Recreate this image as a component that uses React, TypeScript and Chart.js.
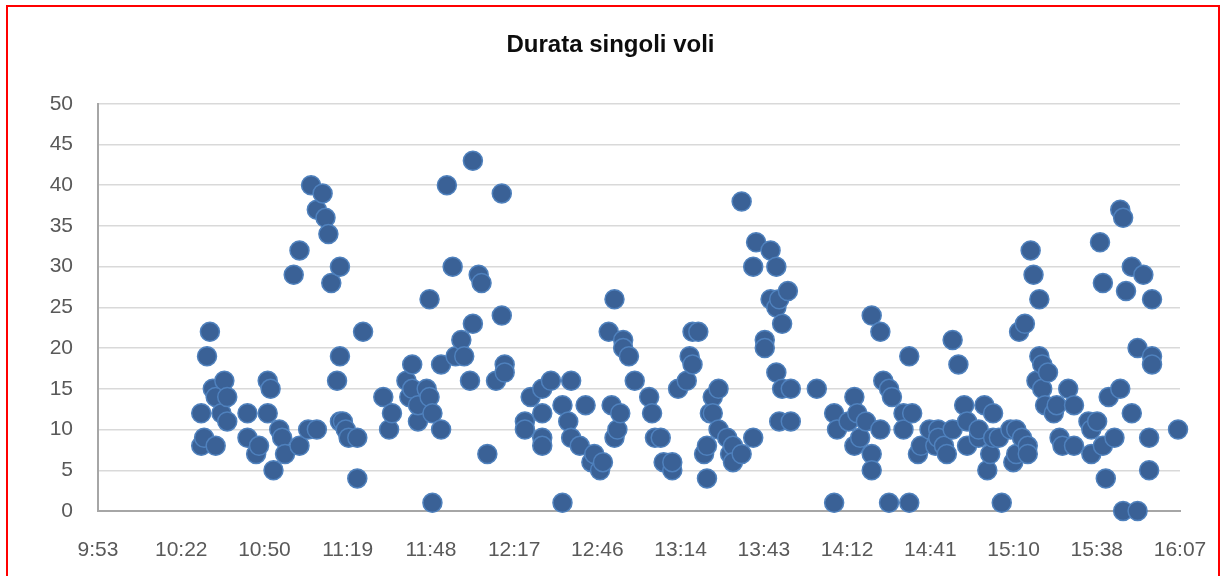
import { useEffect, useRef } from "react";
import { Chart, registerables } from "chart.js";

Chart.register(...registerables);

const chartTitle = "Durata singoli voli";

// Orario di decollo (hh:mm) di ciascun volo
const flightTimes = [
  "10:29", "10:29", "10:30", "10:31", "10:32", "10:33", "10:34", "10:34", "10:36", "10:37",
  "10:38", "10:38", "10:45", "10:45", "10:48", "10:49", "10:52", "10:52", "10:53", "10:54",
  "10:56", "10:57", "10:58", "11:01", "11:03", "11:03", "11:06", "11:07", "11:09", "11:09",
  "11:11", "11:12", "11:13", "11:14", "11:16", "11:17", "11:17", "11:17", "11:18", "11:19",
  "11:20", "11:23", "11:23", "11:25", "11:32", "11:34", "11:35", "11:40", "11:41", "11:42",
  "11:42", "11:44", "11:44", "11:47", "11:48", "11:48", "11:49", "11:49", "11:52", "11:52",
  "11:54", "11:56", "11:57", "11:59", "12:00", "12:02", "12:03", "12:03", "12:05", "12:06",
  "12:08", "12:11", "12:13", "12:13", "12:14", "12:14", "12:21", "12:21", "12:23", "12:27",
  "12:27", "12:27", "12:27", "12:30", "12:34", "12:34", "12:36", "12:37", "12:37", "12:40",
  "12:42", "12:44", "12:45", "12:47", "12:48", "12:50", "12:51", "12:52", "12:52", "12:53",
  "12:54", "12:55", "12:55", "12:57", "12:59", "13:04", "13:05", "13:06", "13:08", "13:09",
  "13:12", "13:12", "13:14", "13:17", "13:18", "13:19", "13:19", "13:21", "13:23", "13:24",
  "13:24", "13:25", "13:26", "13:26", "13:28", "13:28", "13:31", "13:32", "13:33", "13:33",
  "13:36", "13:36", "13:40", "13:40", "13:41", "13:44", "13:44", "13:46", "13:46", "13:48",
  "13:48", "13:48", "13:49", "13:49", "13:50", "13:50", "13:52", "13:53", "13:53", "14:02",
  "14:08", "14:08", "14:09", "14:13", "14:15", "14:15", "14:16", "14:17", "14:19", "14:21",
  "14:21", "14:21", "14:24", "14:24", "14:25", "14:27", "14:27", "14:28", "14:32", "14:32",
  "14:34", "14:34", "14:35", "14:37", "14:38", "14:41", "14:43", "14:44", "14:44", "14:46",
  "14:47", "14:49", "14:49", "14:51", "14:53", "14:54", "14:54", "14:58", "14:58", "15:00",
  "15:01", "15:02", "15:03", "15:03", "15:05", "15:06", "15:09", "15:10", "15:11", "15:11",
  "15:12", "15:13", "15:14", "15:15", "15:15", "15:16", "15:17", "15:18", "15:19", "15:19",
  "15:20", "15:20", "15:21", "15:22", "15:24", "15:25", "15:26", "15:27", "15:29", "15:31",
  "15:31", "15:36", "15:37", "15:37", "15:39", "15:40", "15:41", "15:41", "15:42", "15:43",
  "15:45", "15:47", "15:47", "15:48", "15:48", "15:49", "15:51", "15:51", "15:53", "15:53",
  "15:55", "15:57", "15:57", "15:58", "15:58", "15:58", "16:07",
];

// Durata (minuti) di ciascun volo, nello stesso ordine
const flightDurations = [
  12, 8, 9, 19, 22, 15, 14, 8, 12, 16,
  14, 11, 12, 9, 7, 8, 16, 12, 15, 5,
  10, 9, 7, 29, 32, 8, 10, 40, 37, 10,
  39, 36, 34, 28, 16, 19, 30, 11, 11, 10,
  9, 9, 4, 22, 14, 10, 12, 16, 14, 18,
  15, 11, 13, 15, 26, 14, 1, 12, 18, 10,
  40, 30, 19, 21, 19, 16, 23, 43, 29, 28,
  7, 16, 24, 39, 18, 17, 11, 10, 14, 15,
  9, 12, 8, 16, 13, 1, 11, 16, 9, 8,
  13, 6, 7, 5, 6, 22, 13, 26, 9, 10,
  12, 21, 20, 19, 16, 14, 12, 9, 9, 6,
  5, 6, 15, 16, 19, 22, 18, 22, 7, 8,
  4, 12, 14, 12, 15, 10, 9, 7, 8, 6,
  7, 38, 9, 30, 33, 21, 20, 32, 26, 25,
  30, 17, 26, 11, 23, 15, 27, 11, 15, 15,
  12, 1, 10, 11, 8, 14, 12, 9, 11, 24,
  7, 5, 10, 22, 16, 1, 15, 14, 12, 10,
  19, 1, 12, 7, 8, 10, 8, 10, 9, 8,
  7, 21, 10, 18, 13, 11, 8, 9, 10, 13,
  5, 7, 9, 12, 9, 1, 10, 6, 10, 7,
  22, 9, 23, 8, 7, 32, 29, 16, 26, 19,
  18, 15, 13, 17, 12, 13, 9, 8, 15, 13,
  8, 11, 10, 7, 11, 33, 28, 8, 4, 14,
  9, 37, 15, 36, 0, 27, 30, 12, 20, 0,
  29, 9, 5, 26, 19, 18, 10,
];

// Etichette dell'asse orizzontale (frazioni di giorno, come in Excel)
const xTickDays = [0.412, 0.432, 0.452, 0.472, 0.492, 0.512, 0.532, 0.552, 0.572, 0.592, 0.612, 0.632, 0.652, 0.672];
const yMin = 0;
const yMax = 50;
const yStep = 5;

const FONT = "'Liberation Sans', Arial, sans-serif";

function toMinutes(t: string): number {
  const [h, m] = t.split(":").map(Number);
  return h * 60 + m;
}

function formatMinutes(v: number): string {
  const total = Math.floor(v + 1e-6);
  const h = Math.floor(total / 60);
  const m = total % 60;
  return `${h}:${String(m).padStart(2, "0")}`;
}

export default function App() {
  const canvasRef = useRef<HTMLCanvasElement | null>(null);

  useEffect(() => {
    const canvas = canvasRef.current;
    if (!canvas) return;
    const points = flightTimes.map((t, i) => ({ x: toMinutes(t), y: flightDurations[i] }));
    const xTickValues = xTickDays.map((d) => d * 1440);

    const chart = new Chart(canvas, {
      type: "scatter",
      data: {
        datasets: [
          {
            label: chartTitle,
            data: points,
            pointRadius: 9.5,
            pointHoverRadius: 9.5,
            backgroundColor: "#3A6196",
            borderColor: "#4F81BD",
            borderWidth: 1.5,
            pointBorderWidth: 1.5,
            clip: false,
          } as any,
        ],
      },
      options: {
        responsive: false,
        animation: false,
        events: [],
        layout: { padding: { left: 0, right: 0, top: 0, bottom: 0 } },
        plugins: {
          legend: { display: false },
          tooltip: { enabled: false },
          title: {
            display: true,
            text: chartTitle,
            color: "#0D0D0D",
            font: { family: FONT, size: 24, weight: "bold", lineHeight: 1.2 },
            padding: { top: 31, bottom: 44 },
          },
        },
        scales: {
          x: {
            type: "linear",
            min: xTickValues[0],
            max: xTickValues[xTickValues.length - 1],
            afterBuildTicks: (scale: any) => {
              scale.ticks = xTickValues.map((v) => ({ value: v }));
            },
            afterFit: (scale: any) => {
              scale.height = 65;
              scale.paddingLeft = 0;
              scale.paddingRight = 41;
            },
            grid: { display: true, color: "rgba(0,0,0,0)", drawTicks: false },
            border: { display: true, color: "#A6A6A6", width: 2 },
            ticks: {
              padding: 27,
              color: "#595959",
              font: { family: FONT, size: 21 },
              maxRotation: 0,
              minRotation: 0,
              autoSkip: false,
              callback: (v: any) => formatMinutes(Number(v)),
            },
          },
          y: {
            min: yMin,
            max: yMax,
            afterFit: (scale: any) => {
              scale.width = 98;
            },
            grid: { color: "#D9D9D9", lineWidth: 1.5, drawTicks: false },
            border: { display: true, color: "#A6A6A6", width: 2 },
            ticks: {
              stepSize: yStep,
              padding: 25,
              color: "#595959",
              font: { family: FONT, size: 21 },
            },
          },
        },
      } as any,
    });

    return () => {
      chart.destroy();
    };
  }, []);

  return (
    <>
      <canvas
        ref={canvasRef}
        width={1221}
        height={576}
        style={{ position: "absolute", left: 0, top: 0, width: 1221, height: 576 }}
      />
      <div
        style={{
          position: "absolute",
          left: 6,
          top: 5,
          width: 1214,
          height: 571,
          borderTop: "2px solid #FF0000",
          borderLeft: "2px solid #FF0000",
          borderRight: "2px solid #FF0000",
          boxSizing: "border-box",
          pointerEvents: "none",
        }}
      />
    </>
  );
}
